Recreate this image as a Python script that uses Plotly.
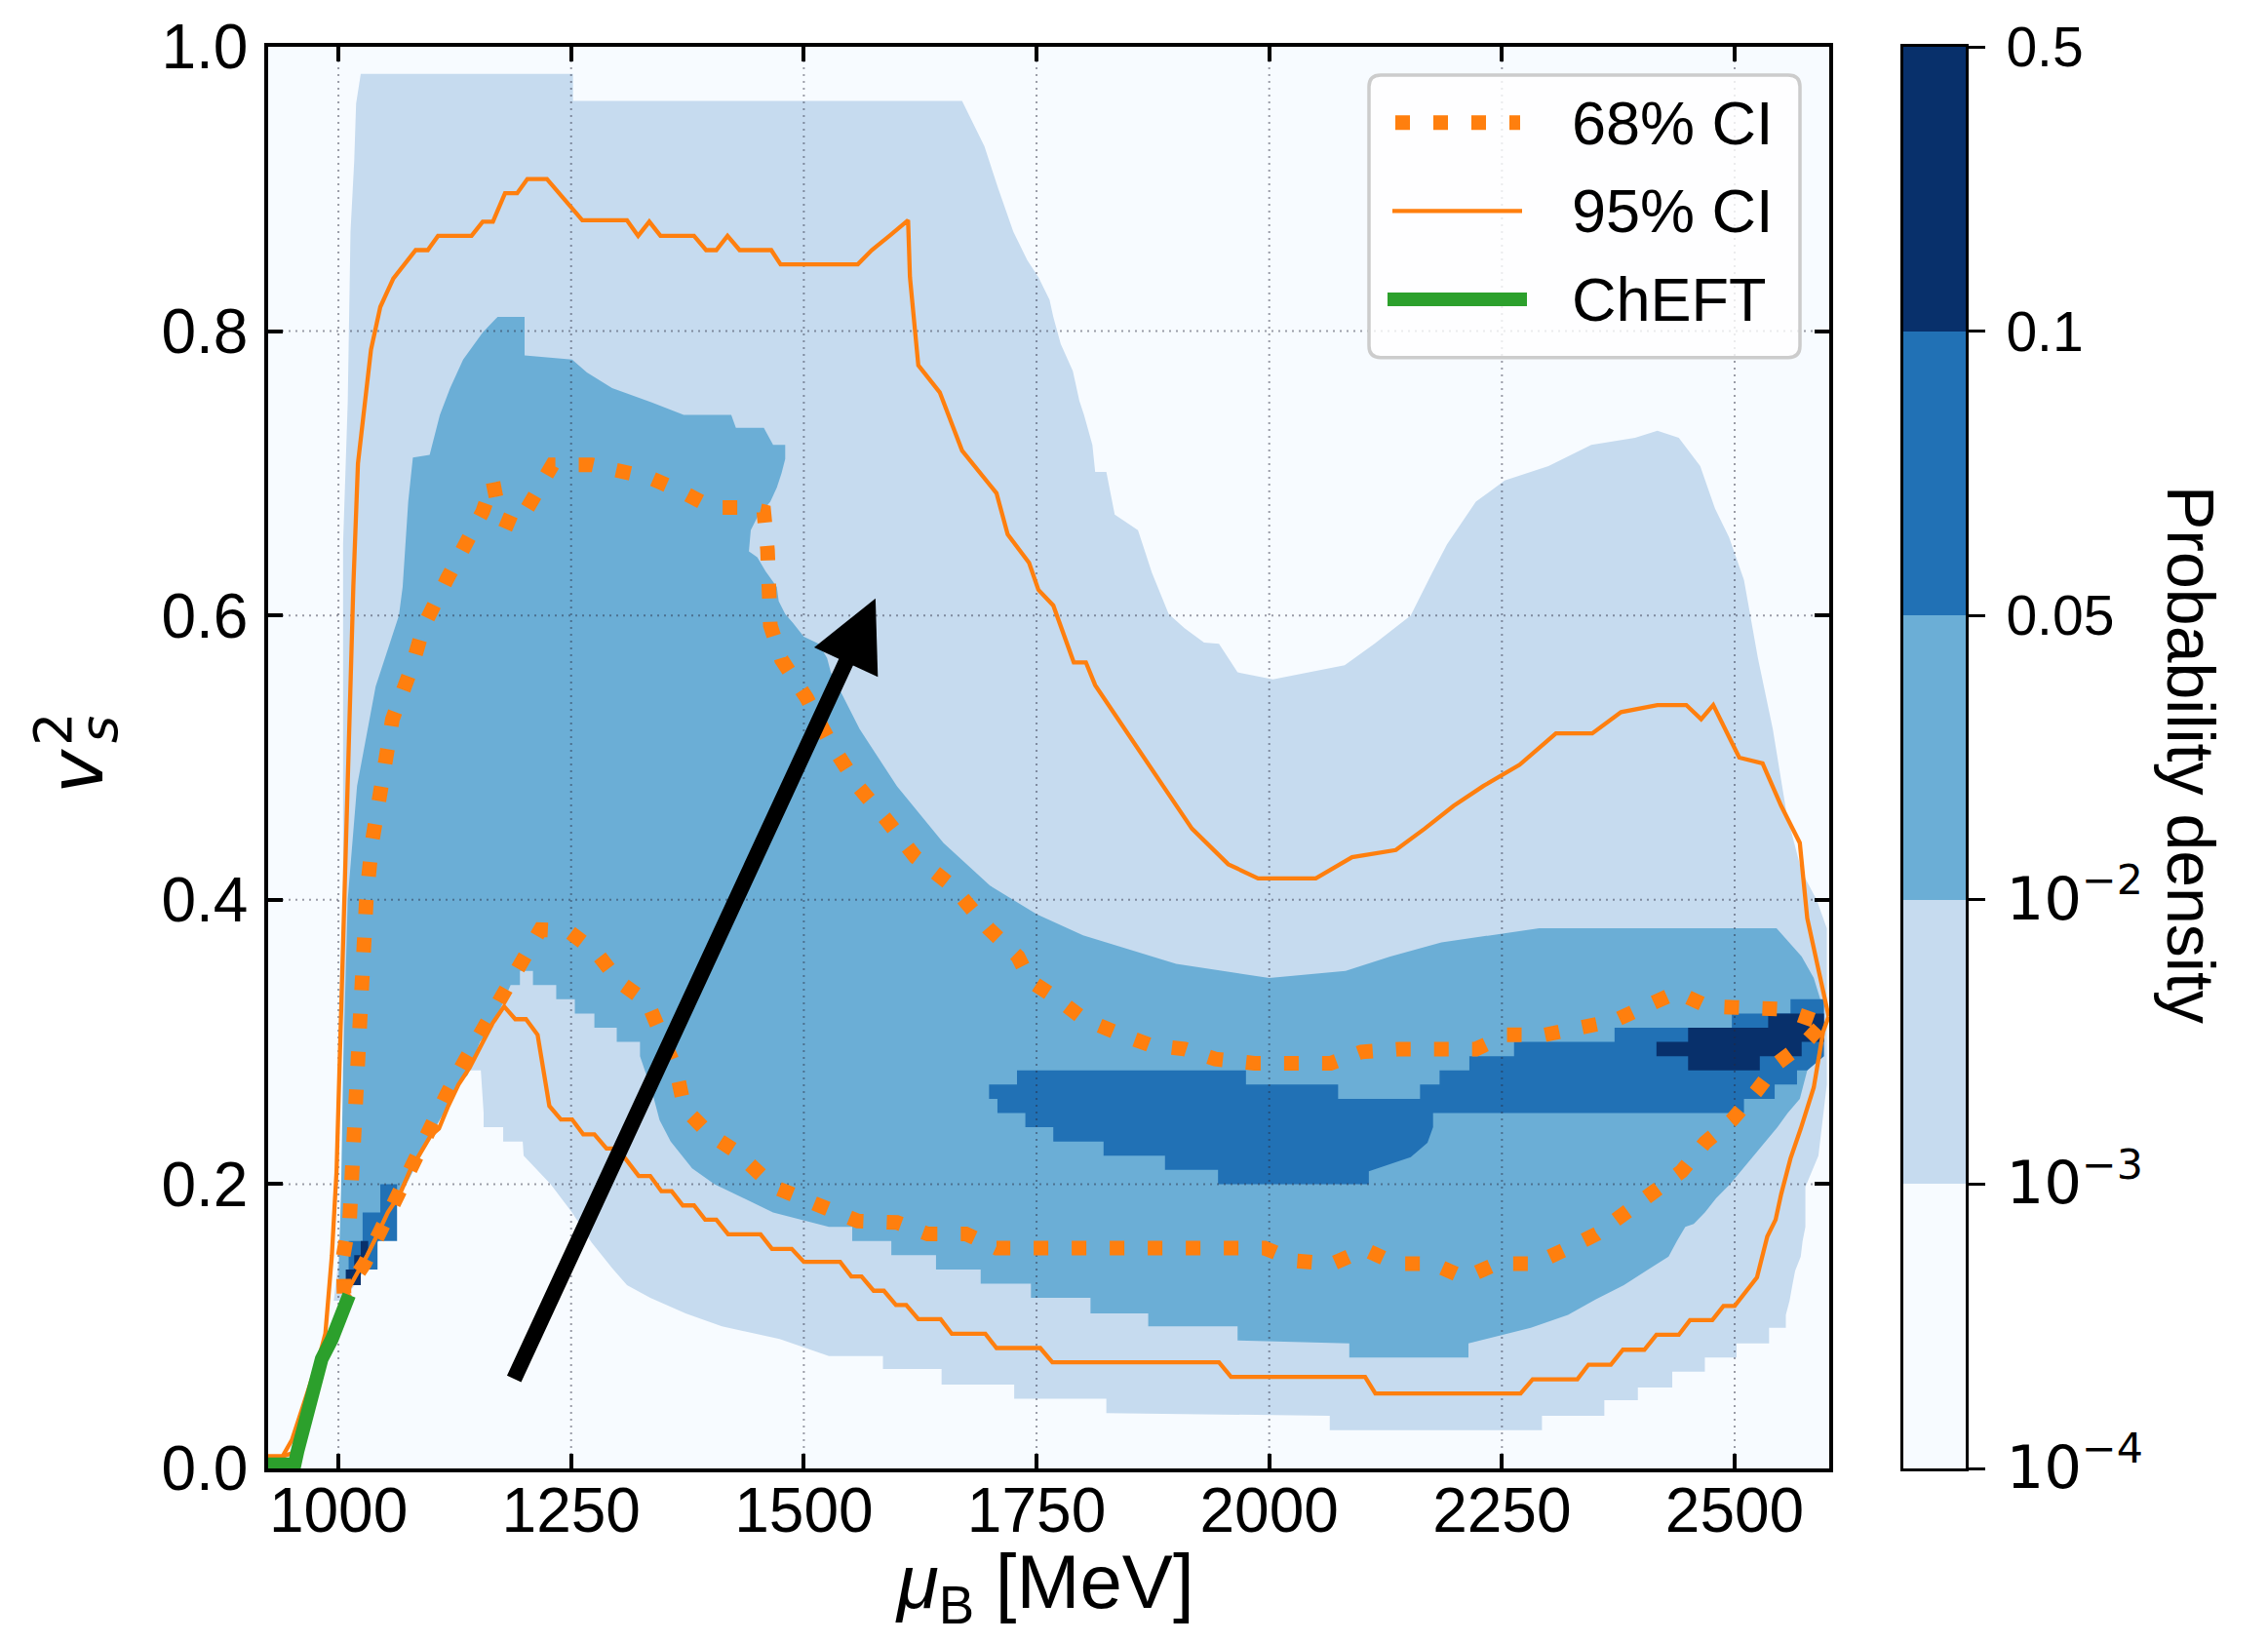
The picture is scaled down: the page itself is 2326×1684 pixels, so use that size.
import plotly.graph_objects as go

# ---------------------------------------------------------------------------
# Posterior of the squared sound speed v_s^2 versus baryon chemical potential
# ---------------------------------------------------------------------------

# Probability-density levels (colour bins) and their colours (Blues)
level_edges = [1e-4, 1e-3, 1e-2, 0.05, 0.1, 0.5]
MATH = "font-family:DejaVu Sans;font-size:61px"
level_labels = [f"<span style='{MATH}'>10<sup>\u22124</sup></span>",
                f"<span style='{MATH}'>10<sup>\u22123</sup></span>",
                f"<span style='{MATH}'>10<sup>\u22122</sup></span>",
                "0.05", "0.1", "0.5"]
level_colors = ["#f7fbff", "#c6dbef", "#6baed6", "#2171b5", "#08306b"]

# Region with density >= 1e-3 (outline, mu_B in MeV, v_s^2)
dens_1e3_mu = [995, 1000, 1005, 1005, 1010, 1013, 1017, 1019, 1024, 1252, 1252, 1670, 1694,
               1709, 1725, 1740, 1752, 1764, 1768, 1776, 1789, 1796, 1801, 1810, 1813, 1825,
               1834, 1859, 1874, 1892, 1909, 1930, 1946, 1966, 2004, 2043, 2081, 2113, 2152,
               2175, 2191, 2222, 2253, 2300, 2346, 2393, 2417, 2440, 2463, 2479, 2494, 2510,
               2525, 2541, 2556, 2572, 2588, 2599, 2599, 2590, 2576,
               2576, 2573, 2571, 2565, 2562, 2559, 2555, 2555, 2537, 2537, 2502, 2502, 2468,
               2468, 2433, 2433, 2396, 2396, 2360, 2360, 2293, 2293, 2065, 2065, 1825, 1825,
               1726, 1726, 1648, 1648, 1585, 1585, 1527, 1474, 1412, 1373, 1335, 1310, 1294,
               1272, 1251, 1228, 1199, 1198, 1177, 1177, 1156, 1156, 1153, 1141, 1129, 1113,
               1097, 1073, 1056, 1042, 1021, 1005]
dens_1e3_v = [0.118, 0.146, 0.200, 0.650, 0.750, 0.870, 0.920, 0.960, 0.981, 0.981, 0.962, 0.962, 0.930,
              0.900, 0.870, 0.850, 0.838, 0.822, 0.810, 0.791, 0.772, 0.751, 0.741, 0.720, 0.701, 0.701,
              0.671, 0.660, 0.630, 0.601, 0.591, 0.581, 0.580, 0.560, 0.555, 0.560, 0.565, 0.580, 0.600,
              0.630, 0.650, 0.680, 0.695, 0.705, 0.720, 0.725, 0.730, 0.725, 0.705, 0.675, 0.655, 0.625,
              0.570, 0.520, 0.460, 0.420, 0.400, 0.380, 0.270, 0.220, 0.198,
              0.170, 0.160, 0.149, 0.139, 0.129, 0.118, 0.108, 0.099, 0.099, 0.088, 0.088, 0.078, 0.078,
              0.068, 0.068, 0.057, 0.057, 0.048, 0.048, 0.037, 0.037, 0.027, 0.027, 0.037, 0.039, 0.049,
              0.049, 0.059, 0.059, 0.070, 0.070, 0.079, 0.079, 0.091, 0.100, 0.109, 0.120, 0.129, 0.141,
              0.159, 0.180, 0.200, 0.220, 0.230, 0.230, 0.240, 0.240, 0.250, 0.280, 0.280, 0.270, 0.250,
              0.230, 0.200, 0.182, 0.159, 0.132, 0.118]

# Region with density >= 1e-2
dens_1e2_mu = [1000, 1003, 1005, 1010, 1020, 1040, 1065, 1069, 1075, 1080, 1098, 1109, 1120, 1134,
               1155, 1171, 1200, 1200, 1251, 1267, 1294, 1336, 1371, 1422, 1427, 1457, 1467, 1480,
               1480, 1476, 1471, 1464, 1450, 1443, 1441, 1450, 1459, 1471, 1473, 1480, 1488, 1500,
               1516, 1525, 1529, 1560, 1600, 1650, 1700, 1750, 1800, 1850, 1900, 1950, 2000, 2082,
               2130, 2185, 2290, 2545, 2572, 2585, 2592, 2594, 2578, 2570, 2557, 2546, 2533, 2521,
               2506, 2495, 2480, 2468, 2456, 2447, 2438, 2429, 2405, 2381, 2351, 2321, 2281, 2214,
               2214, 2086, 2086, 1966, 1966, 1870, 1870, 1808, 1808, 1744, 1744, 1690, 1690, 1642,
               1642, 1594, 1594, 1552, 1552, 1527, 1467, 1433, 1404, 1380, 1357, 1345, 1337, 1324,
               1324, 1299, 1299, 1275, 1275, 1254, 1254, 1234, 1234, 1209, 1209, 1195, 1195, 1185,
               1165, 1152, 1139, 1129, 1115, 1097, 1073, 1056, 1042, 1021, 1000]
dens_1e2_v = [0.129, 0.200, 0.280, 0.400, 0.480, 0.550, 0.600, 0.620, 0.680, 0.711, 0.713, 0.741, 0.760, 0.780,
              0.799, 0.810, 0.810, 0.783, 0.780, 0.771, 0.760, 0.750, 0.741, 0.741, 0.732, 0.732, 0.720, 0.720,
              0.710, 0.700, 0.690, 0.680, 0.669, 0.660, 0.645, 0.641, 0.631, 0.620, 0.610, 0.601, 0.595, 0.585,
              0.580, 0.570, 0.560, 0.520, 0.480, 0.440, 0.410, 0.390, 0.375, 0.365, 0.355, 0.350, 0.345, 0.350,
              0.360, 0.370, 0.380, 0.380, 0.360, 0.345, 0.330, 0.300, 0.280, 0.260, 0.250, 0.240, 0.230, 0.220,
              0.209, 0.200, 0.190, 0.180, 0.172, 0.170, 0.160, 0.149, 0.139, 0.129, 0.119, 0.108, 0.099, 0.088,
              0.078, 0.078, 0.088, 0.090, 0.100, 0.100, 0.109, 0.109, 0.120, 0.120, 0.130, 0.130, 0.140, 0.140,
              0.150, 0.150, 0.160, 0.160, 0.170, 0.170, 0.180, 0.191, 0.200, 0.211, 0.230, 0.245, 0.265, 0.290,
              0.300, 0.300, 0.310, 0.310, 0.320, 0.320, 0.330, 0.330, 0.340, 0.340, 0.350, 0.350, 0.340, 0.340,
              0.310, 0.300, 0.277, 0.270, 0.252, 0.232, 0.200, 0.182, 0.159, 0.132, 0.129]

# Regions with density >= 0.05
dens_005a_mu = [1008, 1008, 1011, 1011, 1026, 1026, 1045, 1045, 1063, 1063, 1042, 1042, 1024, 1024]
dens_005a_v = [0.129, 0.140, 0.140, 0.160, 0.160, 0.180, 0.180, 0.200, 0.200, 0.160, 0.160, 0.140, 0.140, 0.129]
dens_005b_mu = [1699, 1699, 1729, 1729, 1975, 1975, 2074, 2074, 2146, 2162, 2162, 2183, 2183, 2215, 2215,
                2263, 2263, 2371, 2371, 2497, 2497, 2560, 2560, 2596, 2596, 2578, 2567, 2567, 2543, 2543,
                2510, 2510, 2201, 2176, 2176, 2170, 2152, 2107, 2107, 1945, 1945, 1888, 1888, 1822, 1822,
                1768, 1768, 1738, 1738, 1708, 1708]
dens_005b_v = [0.260, 0.270, 0.270, 0.280, 0.280, 0.270, 0.270, 0.260, 0.260, 0.260, 0.270, 0.270, 0.280, 0.280, 0.290,
               0.290, 0.300, 0.300, 0.310, 0.310, 0.320, 0.320, 0.330, 0.330, 0.290, 0.280, 0.280, 0.270, 0.270, 0.260,
               0.260, 0.250, 0.250, 0.250, 0.240, 0.229, 0.219, 0.209, 0.200, 0.200, 0.210, 0.210, 0.220, 0.220, 0.230,
               0.230, 0.240, 0.240, 0.250, 0.250, 0.260]

# Regions with density >= 0.1
dens_01a_mu = [1008, 1008, 1017, 1017, 1024, 1024, 1032, 1032, 1024, 1024]
dens_01a_v = [0.129, 0.140, 0.140, 0.150, 0.150, 0.160, 0.160, 0.150, 0.140, 0.129]
dens_01b_mu = [2416, 2416, 2450, 2450, 2536, 2536, 2596, 2596, 2572, 2572, 2527, 2527, 2450, 2450]
dens_01b_v = [0.290, 0.300, 0.300, 0.310, 0.310, 0.320, 0.320, 0.300, 0.300, 0.290, 0.290, 0.280, 0.280, 0.290]

# 68 % credible contour: upper branch (left to right) and lower branch (right to left)
ci68_up_mu = [1006, 1005, 1012, 1014, 1015, 1017, 1023, 1030, 1036, 1045, 1058, 1078, 1092, 1117, 1136,
              1155, 1166, 1174, 1192, 1214, 1230, 1272, 1305, 1334, 1369, 1401, 1438, 1457, 1461, 1462,
              1464, 1476, 1503, 1527, 1558, 1589, 1620, 1659, 1698, 1730, 1743, 1771, 1801, 1834, 1871,
              1909, 1942, 1984, 2066, 2099, 2140, 2222, 2255, 2296, 2335, 2371, 2404, 2438, 2471, 2552,
              2586, 2598]
ci68_up_v = [0.123, 0.149, 0.175, 0.202, 0.228, 0.256, 0.320, 0.400, 0.440, 0.480, 0.527, 0.562, 0.593, 0.626, 0.649,
             0.673, 0.694, 0.668, 0.663, 0.686, 0.706, 0.706, 0.702, 0.697, 0.687, 0.676, 0.676, 0.673, 0.646, 0.620,
             0.593, 0.569, 0.542, 0.512, 0.480, 0.456, 0.430, 0.410, 0.380, 0.360, 0.343, 0.331, 0.316, 0.307, 0.298,
             0.295, 0.288, 0.285, 0.285, 0.293, 0.295, 0.295, 0.305, 0.305, 0.309, 0.315, 0.325, 0.335, 0.325, 0.323,
             0.315, 0.315]
ci68_lo_mu = [2598, 2578, 2546, 2523, 2497, 2468, 2443, 2412, 2382, 2352, 2318, 2285, 2244, 2210, 2176,
              2136, 2103, 2068, 2028, 1995, 1707, 1674, 1633, 1600, 1558, 1515, 1468, 1427, 1399, 1372,
              1363, 1332, 1302, 1277, 1247, 1217, 1196, 1175, 1157, 1136, 1117, 1099, 1082, 1066, 1047,
              1028, 1006]
ci68_lo_v = [0.315, 0.301, 0.285, 0.265, 0.245, 0.229, 0.209, 0.194, 0.178, 0.165, 0.154, 0.144, 0.144, 0.134, 0.144,
             0.144, 0.154, 0.144, 0.146, 0.155, 0.155, 0.165, 0.165, 0.173, 0.174, 0.186, 0.198, 0.223, 0.235, 0.253,
             0.280, 0.328, 0.342, 0.363, 0.378, 0.379, 0.356, 0.333, 0.309, 0.287, 0.264, 0.240, 0.216, 0.191, 0.167,
             0.144, 0.123]

# 95 % credible band edges
ci95_hi_mu = [924.5, 940, 950, 965, 980, 986, 993, 996, 998, 1000, 1001, 1008, 1013, 1016, 1021, 1035, 1045,
              1059, 1083, 1096, 1107, 1143, 1155, 1166, 1179, 1192, 1203, 1224, 1262, 1310, 1322, 1334,
              1346, 1382, 1395, 1406, 1418, 1431, 1465, 1475, 1558, 1573, 1592, 1612, 1614, 1623, 1646,
              1670, 1707, 1719, 1742, 1752, 1768, 1790, 1803, 1813, 1886, 1917, 1956, 1988, 2050, 2089,
              2136, 2167, 2198, 2230, 2269, 2308, 2347, 2378, 2417, 2448, 2464, 2477, 2505, 2530, 2550,
              2570, 2578, 2595, 2601]
ci95_hi_v = [0.0085, 0.0085, 0.020, 0.050, 0.080, 0.095, 0.150, 0.186, 0.209, 0.255, 0.277, 0.450, 0.560, 0.620,
             0.707, 0.787, 0.817, 0.837, 0.857, 0.857, 0.867, 0.867, 0.877, 0.877, 0.897, 0.897, 0.907, 0.907,
             0.878, 0.878, 0.867, 0.877, 0.867, 0.867, 0.857, 0.857, 0.867, 0.857, 0.857, 0.847, 0.847, 0.857,
             0.867, 0.878, 0.838, 0.776, 0.757, 0.716, 0.686, 0.657, 0.637, 0.618, 0.607, 0.567, 0.567, 0.551,
             0.480, 0.450, 0.425, 0.415, 0.415, 0.430, 0.435, 0.450, 0.466, 0.480, 0.495, 0.517, 0.517, 0.532,
             0.537, 0.537, 0.527, 0.537, 0.500, 0.496, 0.466, 0.440, 0.387, 0.334, 0.318]
ci95_lo_mu = [924.5, 940, 956, 964, 972, 982, 993, 1003, 1011.5, 1031, 1043, 1053, 1066, 1076.5, 1090, 1099,
              1108, 1118, 1129, 1141, 1152, 1165.5, 1178, 1190, 1201.5, 1214, 1226.6, 1239, 1251, 1263,
              1275, 1288, 1300, 1312, 1322.6, 1335, 1347, 1358, 1370, 1382, 1394, 1406, 1418.7, 1453.5,
              1465.8, 1487, 1500, 1539, 1551, 1562, 1575, 1586, 1599, 1610, 1623, 1647, 1659, 1695, 1707,
              1754, 1767, 1946, 1959, 2103, 2114, 2270, 2283, 2331, 2343, 2367, 2380, 2403, 2416, 2440,
              2452, 2476, 2488, 2500, 2524, 2535, 2544, 2550, 2560, 2571, 2585, 2595, 2601]
ci95_lo_v = [0.0085, 0.0085, 0.012, 0.031, 0.059, 0.077, 0.091, 0.105, 0.127, 0.150, 0.166, 0.180, 0.193, 0.209,
             0.224, 0.234, 0.239, 0.255, 0.270, 0.282, 0.296, 0.313, 0.325, 0.316, 0.316, 0.305, 0.255, 0.2455,
             0.2455, 0.235, 0.235, 0.225, 0.225, 0.215, 0.2057, 0.2057, 0.195, 0.195, 0.185, 0.185, 0.175, 0.175,
             0.1647, 0.1647, 0.1544, 0.1544, 0.1453, 0.1453, 0.135, 0.135, 0.125, 0.125, 0.115, 0.115, 0.105,
             0.105, 0.0947, 0.0947, 0.0847, 0.0847, 0.0747, 0.0747, 0.0644, 0.0644, 0.0527, 0.0527, 0.0627,
             0.0627, 0.073, 0.073, 0.0835, 0.0835, 0.094, 0.094, 0.1043, 0.1043, 0.1143, 0.1143, 0.1344, 0.163,
             0.175, 0.193, 0.218, 0.239, 0.268, 0.307, 0.318]

# Chiral EFT constraint
cheft_mu = [924.5, 953, 956, 964, 972, 982, 993, 1003, 1011.5]
cheft_v = [0.003, 0.003, 0.012, 0.031, 0.059, 0.077, 0.091, 0.105, 0.122]

# Arrow (tail -> tip) in data coordinates
arrow_tail = (1188, 0.062)
arrow_tip = (1577, 0.612)

# Axes
x_range = [924.5, 2601.6]
x_ticks = [1000, 1250, 1500, 1750, 2000, 2250, 2500]
y_ticks = [0.0, 0.2, 0.4, 0.6, 0.8, 1.0]

legend_names = ["68% CI", "95% CI", "ChEFT"]

# ---------------------------------------------------------------------------
W, H = 2326, 1684
ML, MR, MT, MB = 275, 250, 42, 178
PW, PH = W - ML - MR, H - MT - MB
FONT = "Liberation Sans, Arial, sans-serif"
ORANGE, GREEN = "#ff7f0e", "#2ca02c"


def fx(px):
    return (px - ML) / PW


def fy(py):
    return (H - MB - py) / PH


fig = go.Figure()


def region(mu, v, color):
    fig.add_trace(go.Scatter(x=mu, y=v, mode="lines", fill="toself", fillcolor=color,
                             line=dict(width=0), hoverinfo="skip", showlegend=False))


region(dens_1e3_mu, dens_1e3_v, level_colors[1])
region(dens_1e2_mu, dens_1e2_v, level_colors[2])
region(dens_005a_mu, dens_005a_v, level_colors[3])
region(dens_005b_mu, dens_005b_v, level_colors[3])
region(dens_01a_mu, dens_01a_v, level_colors[4])
region(dens_01b_mu, dens_01b_v, level_colors[4])

# dotted grid drawn over the density, below the curves
gx, gy = [], []
for t in x_ticks:
    gx += [t, t, None]
    gy += [0, 1, None]
for t in y_ticks[1:-1]:
    gx += [x_range[0], x_range[1], None]
    gy += [t, t, None]
fig.add_trace(go.Scatter(x=gx, y=gy, mode="lines", hoverinfo="skip", showlegend=False,
                         line=dict(color="rgba(40,40,60,0.45)", width=2, dash="2px,5px")))

# credible-interval curves
for mu, v in [(ci95_hi_mu, ci95_hi_v), (ci95_lo_mu, ci95_lo_v)]:
    fig.add_trace(go.Scatter(x=mu, y=v, mode="lines", hoverinfo="skip", showlegend=False,
                             line=dict(color=ORANGE, width=4.3)))
fig.add_trace(go.Scatter(x=ci68_up_mu + ci68_lo_mu[1:], y=ci68_up_v + ci68_lo_v[1:], mode="lines",
                         hoverinfo="skip", showlegend=False,
                         line=dict(color=ORANGE, width=15, dash="15px,24px")))
fig.add_trace(go.Scatter(x=cheft_mu, y=cheft_v, mode="lines", hoverinfo="skip", showlegend=False,
                         line=dict(color=GREEN, width=14)))

# colour bar as a one-column heatmap
n = len(level_colors)
cscale = []
for i, c in enumerate(level_colors):
    lo = max(0.0, (i - 0.5) / (n - 1))
    hi = min(1.0, (i + 0.5) / (n - 1))
    cscale += [[lo, c], [hi, c]]
fig.add_trace(go.Heatmap(z=[[i] for i in range(n)], x=[0], y=[i + 0.5 for i in range(n)],
                         colorscale=cscale, zmin=0, zmax=n - 1, showscale=False,
                         hoverinfo="skip", xaxis="x2", yaxis="y2"))

axis_common = dict(ticks="inside", ticklen=15, tickwidth=3.5, tickcolor="black",
                   showline=True, linewidth=3.5, linecolor="black", mirror="ticks",
                   showgrid=False, zeroline=False, layer="above traces",
                   tickfont=dict(family=FONT, size=64, color="black"))

fig.update_layout(
    width=W, height=H,
    margin=dict(l=ML, r=MR, t=MT, b=MB),
    paper_bgcolor="white", plot_bgcolor=level_colors[0],
    font=dict(family=FONT, color="black"),
    showlegend=False,
    xaxis=dict(domain=[0, fx(1876)], range=x_range, tickvals=x_ticks,
               ticklabelstandoff=-16, **axis_common),
    yaxis=dict(domain=[0, 1], range=[0, 1], tickvals=y_ticks,
               ticktext=[f"{t:.1f}" for t in y_ticks], ticklabelstandoff=4, **axis_common),
    xaxis2=dict(domain=[fx(1952), fx(2016)], range=[-0.5, 0.5], anchor="y2",
                showticklabels=False, ticks="", showline=True, mirror=True, linewidth=3,
                linecolor="black", showgrid=False, zeroline=False),
    yaxis2=dict(domain=[0, 1], range=[0, n], anchor="x2", side="right",
                tickvals=list(range(n + 1)), ticktext=level_labels, ticks="outside",
                ticklen=17, tickwidth=3, tickcolor="black", showline=True, mirror=True,
                linewidth=3, linecolor="black", showgrid=False, zeroline=False,
                ticklabelstandoff=10,
                tickfont=dict(family=FONT, size=57, color="black")),
)

ann = []
# arrow
ann.append(dict(x=arrow_tip[0], y=arrow_tip[1], ax=arrow_tail[0], ay=arrow_tail[1],
                xref="x", yref="y", axref="x", ayref="y", text="", showarrow=True,
                arrowhead=2, arrowsize=0.9, arrowwidth=16, arrowcolor="black"))
# axis labels
ann.append(dict(x=fx(1071), y=fy(1628), xref="paper", yref="paper", showarrow=False,
                text="<i>\u03bc</i><sub>B</sub> [MeV]", font=dict(size=78, family=FONT),
                xanchor="center", yanchor="middle"))
ann.append(dict(x=fx(79), y=fy(788), xref="paper", yref="paper", showarrow=False,
                text="<i>v</i>", textangle=-90, font=dict(size=76, family="DejaVu Sans"),
                xanchor="center", yanchor="middle"))
ann.append(dict(x=fx(101), y=fy(745), xref="paper", yref="paper", showarrow=False,
                text="<i>s</i>", textangle=-90, font=dict(size=54, family="DejaVu Sans"),
                xanchor="center", yanchor="middle"))
ann.append(dict(x=fx(54), y=fy(745), xref="paper", yref="paper", showarrow=False,
                text="2", textangle=-90, font=dict(size=54, family="DejaVu Sans"),
                xanchor="center", yanchor="middle"))
ann.append(dict(x=fx(2247), y=fy(771), xref="paper", yref="paper", showarrow=False,
                text="Probability density", textangle=90, font=dict(size=68, family=FONT),
                xanchor="center", yanchor="middle"))

# legend
shapes = []
bx0, by0, bx1, by1, r = 1404, 71, 1846, 362, 12
X0, X1, Y0, Y1 = fx(bx0), fx(bx1), fy(by1), fy(by0)
rx, ry = r / PW, r / PH
path = (f"M{X0+rx},{Y1} L{X1-rx},{Y1} Q{X1},{Y1} {X1},{Y1-ry} L{X1},{Y0+ry} Q{X1},{Y0} {X1-rx},{Y0} "
        f"L{X0+rx},{Y0} Q{X0},{Y0} {X0},{Y0+ry} L{X0},{Y1-ry} Q{X0},{Y1} {X0+rx},{Y1} Z")
shapes.append(dict(type="path", path=path, xref="paper", yref="paper", layer="above",
                   fillcolor="rgba(255,255,255,0.8)", line=dict(color="#cccccc", width=3.5)))
rows = [120, 211, 302]
samples = [(1431, 1559, dict(color=ORANGE, width=15, dash="15px,24px")),
           (1428, 1561, dict(color=ORANGE, width=4.3)),
           (1423, 1566, dict(color=GREEN, width=14))]
for (sx0, sx1, ln), ry_, name in zip(samples, rows, legend_names):
    shapes.append(dict(type="line", xref="paper", yref="paper", layer="above",
                       x0=fx(sx0), x1=fx(sx1), y0=fy(ry_), y1=fy(ry_), line=ln))
    ann.append(dict(x=fx(1610), y=fy(ry_), xref="paper", yref="paper", showarrow=False,
                    text=name, font=dict(size=63, family=FONT), xanchor="left", yanchor="middle"))

fig.update_layout(annotations=ann, shapes=shapes)
fig.write_html("out.html")
